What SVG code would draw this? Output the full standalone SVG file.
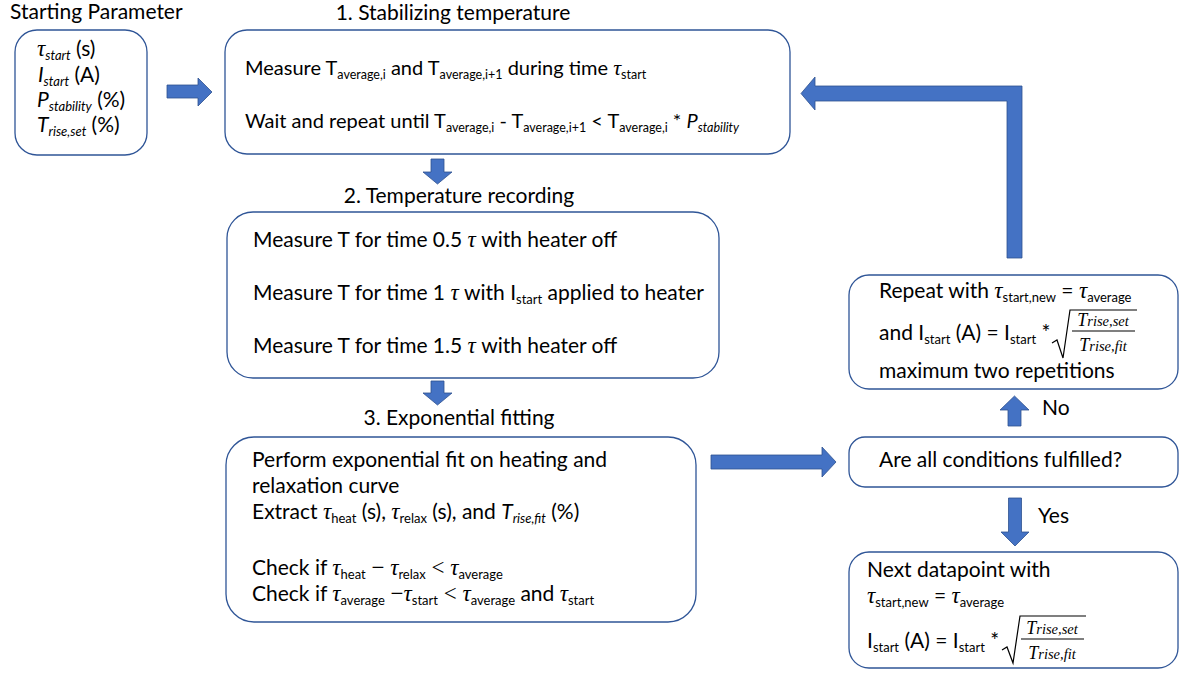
<svg xmlns="http://www.w3.org/2000/svg" width="1181" height="673" viewBox="0 0 1181 673">
<style>
text{font-family:Lato,"Liberation Sans",sans-serif;font-size:21px;fill:#000}
.box{fill:#fff;stroke:#2F5597;stroke-width:1.3}
.arr{fill:#4472C4;stroke:#2F528F;stroke-width:0.8}
.g{font-family:"Liberation Serif","DejaVu Serif",serif;font-style:italic;font-size:23px}
.op{font-family:"Liberation Serif","DejaVu Serif",serif;font-size:23px}
.sb{font-size:13px}
.i{font-style:italic}
.f{font-family:"Liberation Serif","DejaVu Serif",serif;font-style:italic;font-size:18px}
.fs{font-size:14.5px}
.ln{stroke:#000;stroke-width:1.2;fill:none}
.t1{font-size:20px}
.t1 .sb{font-size:12.5px}
.t1 .g{font-size:22px}
</style>
<rect width="1181" height="673" fill="#fff"/>

<g id="start">
<text x="10" y="19">Starting Parameter</text>
<rect class="box" x="15" y="30" width="132" height="125" rx="22"/>
<text x="37" y="56"><tspan class="g">τ</tspan><tspan class="sb i" dy="4">start</tspan><tspan dy="-4"> (s)</tspan></text>
<text x="38" y="82"><tspan class="i">I</tspan><tspan class="sb i" dy="4">start</tspan><tspan dy="-4"> (A)</tspan></text>
<text x="37" y="107"><tspan class="i">P</tspan><tspan class="sb i" dy="4">stability</tspan><tspan dy="-4"> (%)</tspan></text>
<text x="37" y="132"><tspan class="i">T</tspan><tspan class="sb i" dy="4">rise,set</tspan><tspan dy="-4"> (%)</tspan></text>
</g>

<g id="stabilize">
<text x="453" y="20" text-anchor="middle">1. Stabilizing temperature</text>
<rect class="box" x="225" y="30" width="565" height="124" rx="22"/>
<text class="t1" x="245" y="75">Measure T<tspan class="sb" dy="4">average,i</tspan><tspan dy="-4"> and T</tspan><tspan class="sb" dy="4">average,i+1</tspan><tspan dy="-4"> during time </tspan><tspan class="g">τ</tspan><tspan class="sb" dy="4">start</tspan></text>
<text class="t1" x="245" y="128">Wait and repeat until T<tspan class="sb" dy="4">average,i</tspan><tspan dy="-4"> - T</tspan><tspan class="sb" dy="4">average,i+1</tspan><tspan dy="-4"> &lt; T</tspan><tspan class="sb" dy="4">average,i</tspan><tspan dy="-4"> * </tspan><tspan class="i">P</tspan><tspan class="sb i" dy="4">stability</tspan></text>
</g>

<g id="recording">
<text x="459" y="203" text-anchor="middle">2. Temperature recording</text>
<rect class="box" x="227" y="212" width="492" height="166" rx="26"/>
<text x="253" y="247">Measure T for time 0.5 <tspan class="g">τ</tspan> with heater off</text>
<text x="253" y="300">Measure T for time 1 <tspan class="g">τ</tspan> with I<tspan class="sb" dy="4">start</tspan><tspan dy="-4"> applied to heater</tspan></text>
<text x="253" y="353">Measure T for time 1.5 <tspan class="g">τ</tspan> with heater off</text>
</g>

<g id="fitting">
<text x="459" y="425" text-anchor="middle">3. Exponential fitting</text>
<rect class="box" x="226" y="437" width="470" height="185" rx="28"/>
<text x="252" y="467">Perform exponential fit on heating and</text>
<text x="252" y="493">relaxation curve</text>
<text x="252" y="519">Extract <tspan class="g">τ</tspan><tspan class="sb" dy="4">heat</tspan><tspan dy="-4"> (s),  </tspan><tspan class="g">τ</tspan><tspan class="sb" dy="4">relax</tspan><tspan dy="-4"> (s), and </tspan><tspan class="i">T</tspan><tspan class="sb i" dy="4">rise,fit</tspan><tspan dy="-4"> (%)</tspan></text>
<text x="252" y="575">Check if <tspan class="g">τ</tspan><tspan class="sb" dy="4">heat</tspan><tspan class="op" dy="-4"> − </tspan><tspan class="g">τ</tspan><tspan class="sb" dy="4">relax</tspan><tspan class="op" dy="-4"> &lt; </tspan><tspan class="g">τ</tspan><tspan class="sb" dy="4">average</tspan></text>
<text x="252" y="601">Check if <tspan class="g">τ</tspan><tspan class="sb" dy="4">average</tspan><tspan class="op" dy="-4"> −</tspan><tspan class="g">τ</tspan><tspan class="sb" dy="4">start</tspan><tspan class="op" dy="-4"> &lt; </tspan><tspan class="g">τ</tspan><tspan class="sb" dy="4">average</tspan><tspan dy="-4"> and </tspan><tspan class="g">τ</tspan><tspan class="sb" dy="4">start</tspan></text>
</g>

<g id="repeat">
<rect class="box" x="849" y="275" width="329" height="114" rx="20"/>
<text x="879" y="298">Repeat with <tspan class="g">τ</tspan><tspan class="sb" dy="4">start,new</tspan><tspan dy="-4"> = </tspan><tspan class="g">τ</tspan><tspan class="sb" dy="4">average</tspan></text>
<text x="879" y="340">and I<tspan class="sb" dy="4">start</tspan><tspan dy="-4"> (A) = I</tspan><tspan class="sb" dy="4">start</tspan><tspan dy="-4"> *</tspan></text>
<path class="ln" d="M1052,343 L1057,340 L1063,358 L1070,310 L1137,310"/>
<line class="ln" x1="1072" y1="331" x2="1135" y2="331"/>
<text class="f" x="1103" y="326" text-anchor="middle">T<tspan class="fs">rise,set</tspan></text>
<text class="f" x="1103" y="351" text-anchor="middle">T<tspan class="fs">rise,fit</tspan></text>
<text x="879" y="378">maximum two repetitions</text>
</g>

<g id="decision">
<rect class="box" x="849" y="437" width="329" height="50" rx="16"/>
<text x="879" y="467">Are all conditions fulfilled?</text>
</g>

<g id="next">
<rect class="box" x="849" y="552" width="329" height="116" rx="20"/>
<text x="867" y="577">Next datapoint with</text>
<text x="867" y="603"><tspan class="g">τ</tspan><tspan class="sb" dy="4">start,new</tspan><tspan dy="-4">  = </tspan><tspan class="g">τ</tspan><tspan class="sb" dy="4">average</tspan></text>
<text x="867" y="648">I<tspan class="sb" dy="4">start</tspan><tspan dy="-4"> (A) = I</tspan><tspan class="sb" dy="4">start</tspan><tspan dy="-4"> *</tspan></text>
<path class="ln" d="M1002,650 L1007,647 L1013,663 L1020,616 L1086,616"/>
<line class="ln" x1="1021" y1="639" x2="1084" y2="639"/>
<text class="f" x="1052" y="634" text-anchor="middle">T<tspan class="fs">rise,set</tspan></text>
<text class="f" x="1052" y="659" text-anchor="middle">T<tspan class="fs">rise,fit</tspan></text>
</g>

<g id="connectors">
<polygon class="arr" points="167,85 198,85 198,78 212,92 198,106 198,98 167,98"/>
<polygon class="arr" points="431,159 444,159 444,172 452,172 437.5,184 423,172 431,172"/>
<polygon class="arr" points="431,381 444,381 444,393 452,393 437.5,405 423,393 431,393"/>
<polygon class="arr" points="711,455 822,455 822,447 836,462 822,477 822,469 711,469"/>
<polygon class="arr" points="1008,426 1008,410 1000,410 1014.5,396 1029,410 1021,410 1021,426"/>
<polygon class="arr" points="1008.5,498 1021.5,498 1021.5,532 1029,532 1015,546 1001,532 1008.5,532"/>
<polygon class="arr" points="1022,258 1022,86 815,86 815,77 801,93.5 815,110 815,101 1007,101 1007,258"/>
<text x="1042" y="415">No</text>
<text x="1038" y="523">Yes</text>
</g>
</svg>
